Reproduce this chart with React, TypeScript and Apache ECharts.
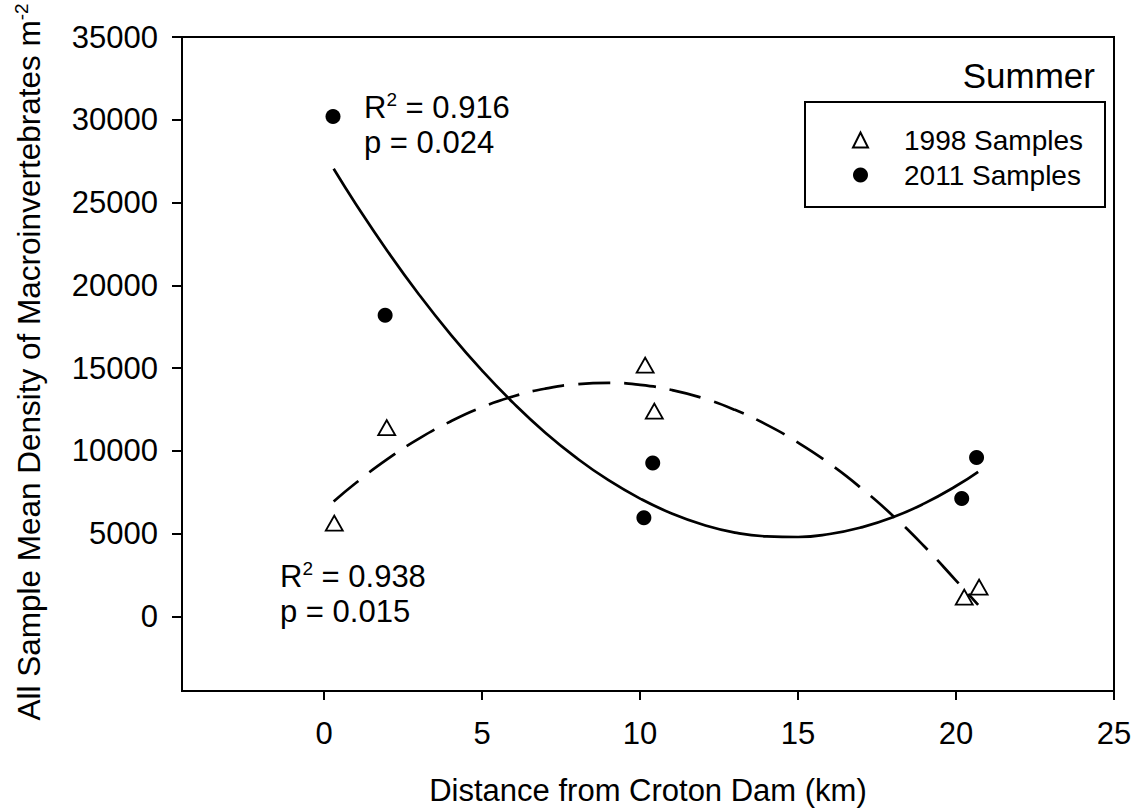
import React, { useEffect, useRef } from 'react';
import * as echarts from 'echarts';

const FONT = '"Liberation Sans", Arial, Helvetica, sans-serif';

const xTickValues = [0, 5, 10, 15, 20, 25];
const yTickValues = [0, 5000, 10000, 15000, 20000, 25000, 30000, 35000];

const distance1998 = [0.32, 1.98, 10.16, 10.45, 20.26, 20.73];
const density1998 = [5640, 11410, 15180, 12400, 1170, 1770];
const distance2011 = [0.28, 1.93, 10.12, 10.4, 20.18, 20.65];
const density2011 = [30200, 18200, 5970, 9270, 7120, 9600];

const fitDistance = [0.3, 1, 2, 3, 4, 5, 6, 7, 8, 9, 10, 11, 12, 13, 14, 15, 16, 17, 18, 19, 20, 20.7];
const fit1998 = [6940, 8060, 9500, 10740, 11780, 12640, 13300, 13760, 14030, 14110, 13990, 13680, 13180, 12480, 11590, 10500, 9225, 7750, 6090, 4225, 2170, 700];
const fit2011 = [27040, 24920, 22080, 19450, 17040, 14850, 12870, 11100, 9560, 8230, 7120, 6220, 5540, 5070, 4840, 4800, 4980, 5380, 5990, 6830, 7880, 8740];

const seriesNames = ['1998 Samples', '2011 Samples'];

const zip = (xs: number[], ys: number[]) => xs.map((x, i) => [x, ys[i]]);

export default function App() {
  const ref = useRef<HTMLDivElement>(null);

  useEffect(() => {
    if (!ref.current) return;
    const chart = echarts.init(ref.current, undefined, { renderer: 'svg' });
    const rich = {
      t: { fontSize: 31, fontFamily: FONT, color: '#000', lineHeight: 35 },
      s: { fontSize: 19, fontFamily: FONT, color: '#000', verticalAlign: 'top', lineHeight: 35 },
    };
    chart.setOption({
      animation: false,
      backgroundColor: '#fff',
      grid: {
        left: 182,
        top: 37,
        right: 26,
        bottom: 119,
        outerBoundsMode: 'none',
        containLabel: false,
        show: true,
        borderColor: '#000',
        borderWidth: 2,
        backgroundColor: 'transparent',
      },
      xAxis: {
        type: 'value',
        min: -4.5,
        max: 25,
        name: 'Distance from Croton Dam (km)',
        nameLocation: 'middle',
        nameGap: 84,
        nameTextStyle: { fontSize: 31, fontFamily: FONT, color: '#000' },
        axisLine: { show: true, onZero: false, lineStyle: { color: '#000', width: 2 } },
        axisTick: { show: true, inside: false, length: 9, customValues: xTickValues, lineStyle: { color: '#000', width: 2 } },
        axisLabel: {
          customValues: xTickValues,
          margin: 27,
          fontSize: 31,
          fontFamily: FONT,
          color: '#000',
          formatter: (v: number) => String(v),
        },
        splitLine: { show: false },
      },
      yAxis: {
        type: 'value',
        min: -4500,
        max: 35000,
        name: '{a|All Sample Mean Density of Macroinvertebrates m}{b|-2}',
        nameLocation: 'middle',
        nameGap: 136,
        nameRotate: 90,
        nameTextStyle: {
          padding: [0, 0, 0, 4],
          rich: {
            a: { fontSize: 31.5, fontFamily: FONT, color: '#000', lineHeight: 34 },
            b: { fontSize: 19, fontFamily: FONT, color: '#000', verticalAlign: 'top', lineHeight: 34 },
          },
        },
        axisLine: { show: true, onZero: false, lineStyle: { color: '#000', width: 2 } },
        axisTick: { show: true, inside: false, length: 10, customValues: yTickValues, lineStyle: { color: '#000', width: 2 } },
        axisLabel: {
          customValues: yTickValues,
          margin: 24,
          fontSize: 31,
          fontFamily: FONT,
          color: '#000',
          formatter: (v: number) => String(v),
        },
        splitLine: { show: false },
      },
      legend: {
        data: seriesNames,
        orient: 'vertical',
        left: 847,
        top: 121,
        itemWidth: 15,
        itemHeight: 15,
        itemGap: 7,
        textStyle: { fontSize: 28, fontFamily: FONT, color: '#000', padding: [0, 0, 0, 31] },
      },
      graphic: [
        {
          type: 'rect',
          shape: { x: 805, y: 102, width: 300, height: 105 },
          style: { fill: 'none', stroke: '#000', lineWidth: 2 },
          z: 100,
        },
        {
          type: 'text',
          x: 1095,
          y: 75,
          style: { text: 'Summer', fontSize: 35, fontFamily: FONT, fill: '#000', align: 'right', verticalAlign: 'middle' },
          z: 100,
        },
        {
          type: 'text',
          x: 364,
          y: 90,
          style: { text: '{t|R}{s|2}{t| = 0.916}\n{t|p = 0.024}', rich, align: 'left', verticalAlign: 'top' },
          z: 100,
        },
        {
          type: 'text',
          x: 280,
          y: 559,
          style: { text: '{t|R}{s|2}{t| = 0.938}\n{t|p = 0.015}', rich, align: 'left', verticalAlign: 'top' },
          z: 100,
        },
      ],
      series: [
        {
          name: '1998 fit',
          type: 'line',
          data: zip(fitDistance, fit1998),
          smooth: true,
          showSymbol: false,
          lineStyle: { color: '#000', width: 2.7, type: [32, 14] },
          z: 2,
        },
        {
          name: '2011 fit',
          type: 'line',
          data: zip(fitDistance, fit2011),
          smooth: true,
          showSymbol: false,
          lineStyle: { color: '#000', width: 2.7, type: 'solid' },
          z: 2,
        },
        {
          name: seriesNames[0],
          type: 'scatter',
          data: zip(distance1998, density1998),
          symbol: 'triangle',
          symbolSize: [17, 15],
          itemStyle: { color: '#fff', borderColor: '#000', borderWidth: 1.8, opacity: 1 },
          z: 3,
        },
        {
          name: seriesNames[1],
          type: 'scatter',
          data: zip(distance2011, density2011),
          symbol: 'circle',
          symbolSize: 15,
          itemStyle: { color: '#000', borderColor: '#000', borderWidth: 0, opacity: 1 },
          z: 3,
        },
      ],
    });
    return () => chart.dispose();
  }, []);

  return (
    <div
      ref={ref}
      style={{ position: 'absolute', left: 0, top: 0, width: 1140, height: 810, background: '#fff' }}
    />
  );
}
